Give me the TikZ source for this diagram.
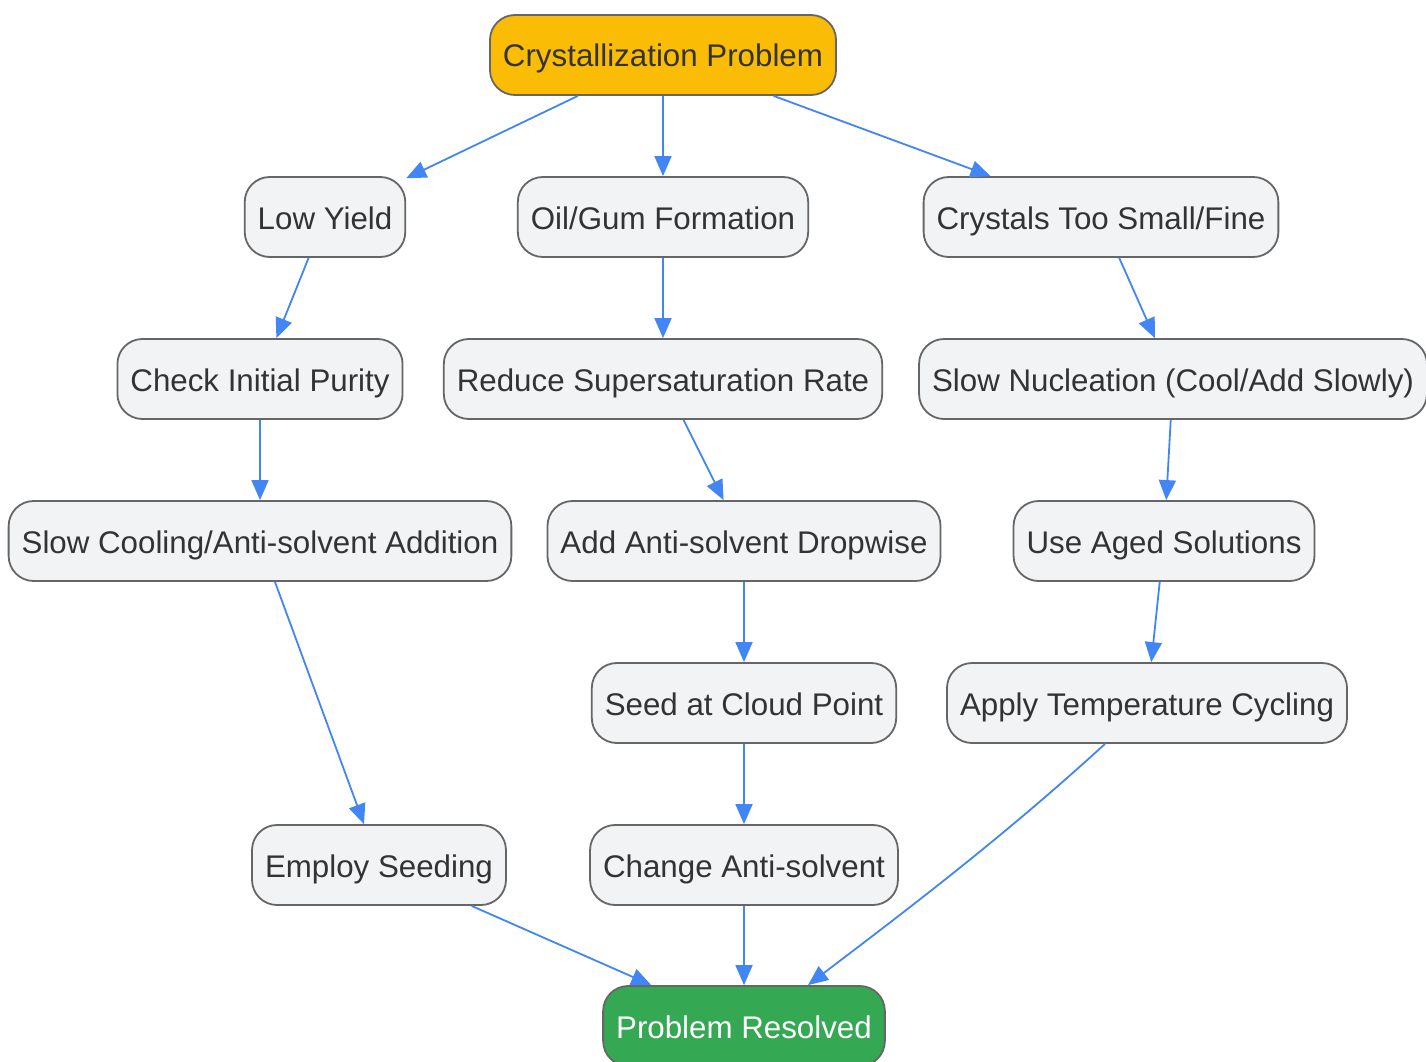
\documentclass[tikz,border=0pt]{standalone}
\usepackage{fontspec}
\setmainfont{Liberation Sans}
\usetikzlibrary{arrows.meta}

\definecolor{boxfill}{HTML}{F1F3F4}
\definecolor{boxline}{HTML}{666666}
\definecolor{boxtext}{HTML}{333333}
\definecolor{startfill}{HTML}{FBBC05}
\definecolor{endfill}{HTML}{34A853}
\definecolor{flow}{HTML}{4285F4}

\tikzset{
  stepbox/.style={draw=boxline, line width=1.8pt, fill=boxfill, text=boxtext,
    rounded corners=25pt, minimum height=80pt, inner xsep=13pt,
    font=\fontsize{31.3}{37}\selectfont, text height=26pt, text depth=2pt},
  startbox/.style={stepbox, fill=startfill},
  endbox/.style={stepbox, fill=endfill, text=white},
  flowline/.style={draw=flow, line width=1.8pt, -{Triangle[length=20pt,width=17pt]}}
}

\begin{document}
\begin{tikzpicture}[x=1pt,y=-1pt]
        \useasboundingbox (0,0) rectangle (1426,1062);
        % start
        \node[startbox] (top) at (663,55) {Crystallization Problem};
        % the three problems
        \node[stepbox] (lowyield) at (325,217) {Low Yield};
        \node[stepbox] (oilgum) at (663,217) {Oil/Gum Formation};
        \node[stepbox] (small) at (1101,217) {Crystals Too Small/Fine};
        % remedies
        \node[stepbox] (purity) at (260,379) {Check Initial Purity};
        \node[stepbox] (supersat) at (663,379) {Reduce Supersaturation Rate};
        \node[stepbox] (nucleation) at (1173,379) {Slow Nucleation (Cool/Add Slowly)};
        \node[stepbox] (slowcool) at (260,541) {Slow Cooling/Anti-solvent Addition};
        \node[stepbox] (dropwise) at (744,541) {Add Anti-solvent Dropwise};
        \node[stepbox] (aged) at (1164,541) {Use Aged Solutions};
        \node[stepbox] (seedcloud) at (744,703) {Seed at Cloud Point};
        \node[stepbox] (cycling) at (1147,703) {Apply Temperature Cycling};
        \node[stepbox] (seeding) at (379,865) {Employ Seeding};
        \node[stepbox] (changeas) at (744,865) {Change Anti-solvent};
        % end
        \node[endbox] (resolved) at (744,1026) {Problem Resolved};

        \draw[flowline] (top) -- (lowyield);
        \draw[flowline] (top) -- (oilgum);
        \draw[flowline] (top) -- (small);
        \draw[flowline] (lowyield) -- (purity);
        \draw[flowline] (purity) -- (slowcool);
        \draw[flowline] (slowcool) -- (seeding);
        \draw[flowline] (oilgum) -- (supersat);
        \draw[flowline] (supersat) -- (dropwise);
        \draw[flowline] (dropwise) -- (seedcloud);
        \draw[flowline] (seedcloud) -- (changeas);
        \draw[flowline] (small) -- (nucleation);
        \draw[flowline] (nucleation) -- (aged);
        \draw[flowline] (aged) -- (cycling);
        \draw[flowline] (seeding) -- (resolved);
        \draw[flowline] (changeas) -- (resolved);
        \draw[flowline] ([xshift=-42pt]cycling.south) .. controls (1000,840) and (900,915) .. ([xshift=64pt]resolved.north);
\end{tikzpicture}
\end{document}
